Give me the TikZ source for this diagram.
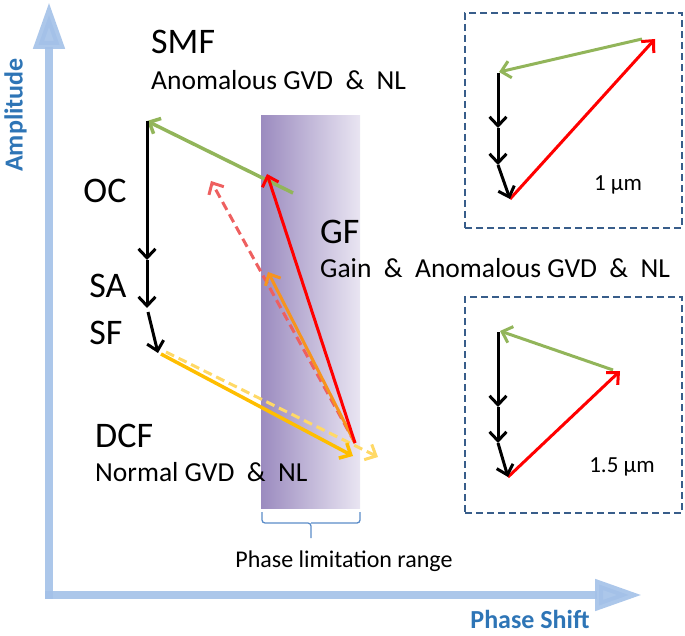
\documentclass[tikz,border=0pt]{standalone}
\usepackage{fontspec}
\setmainfont{Carlito}
\usetikzlibrary{arrows.meta}
\definecolor{axisblue}{HTML}{A3C1E8}
\definecolor{labelblue}{HTML}{2E75B6}
\definecolor{bandL}{HTML}{9B8BBF}
\definecolor{bandR}{HTML}{E9E5F2}
\definecolor{vgreen}{HTML}{92B55A}
\definecolor{vred}{HTML}{FF0000}
\definecolor{vreddash}{HTML}{EE6060}
\definecolor{vorange}{HTML}{F7941E}
\definecolor{vyellow}{HTML}{FFBE00}
\definecolor{vyellowdash}{HTML}{FFD966}
\definecolor{boxblue}{HTML}{385D8A}
\definecolor{braceblue}{HTML}{5B8CC8}
\tikzset{
  axisarrow/.style={draw=axisblue, line width=8pt, opacity=0.9, -{Triangle[length=47pt,width=30pt]}},
  vec/.style={line width=3pt, line cap=butt, -{Straight Barb[length=9pt,width=17pt]}},
  bigtxt/.style={anchor=west, inner sep=0pt, font=\fontsize{36}{42}\selectfont},
  midtxt/.style={anchor=west, inner sep=0pt, font=\fontsize{27.5}{32}\selectfont},
  smalltxt/.style={inner sep=0pt, font=\fontsize{23}{27}\selectfont},
  axlabel/.style={inner sep=0pt, text=labelblue, font=\bfseries\fontsize{26}{30}\selectfont},
  inset/.style={draw=boxblue, line width=2pt, dash pattern=on 7pt off 4pt, inner sep=0pt},
  dsh/.style={dash pattern=on 9pt off 5pt}
}
\begin{document}
\begin{tikzpicture}[x=1pt,y=-1pt]
\useasboundingbox (0,0) rectangle (685,636);
% axes
\coordinate (O1) at (49,599);
\coordinate (Ytip) at (49,2);
\coordinate (O2) at (45,595);
\coordinate (Xtip) at (642,595);
\draw[axisarrow] (O1) -- (Ytip);
\draw[axisarrow] (O2) -- (Xtip);
\node[axlabel, rotate=90] (amp) at (15.5,115) {Amplitude};
\node[axlabel] (ps) at (530,619) {Phase Shift};
% band
\shade[left color=bandL, right color=bandR] (261,116) rectangle (360,508);
\coordinate (bL) at (262,512);
\coordinate (bR) at (360,512);
\coordinate (bM) at (311,523);
\coordinate (bT) at (311,538);
\draw[braceblue, line width=1.3pt, rounded corners=3pt] (bL) |- (bM) -- (bT);
\draw[braceblue, line width=1.3pt, rounded corners=3pt] (bR) |- (bM);
\node[inner sep=0pt, font=\fontsize{24}{28}\selectfont] (plr) at (344,561) {Phase limitation range};
% texts
\node[bigtxt] (smf) at (151,42) {SMF};
\node[midtxt] (smfd) at (151,80) {Anomalous GVD\ \ \&\ \ NL};
\node[bigtxt, anchor=center] (oc) at (105,191) {OC};
\node[bigtxt, anchor=center] (sa) at (108,286) {SA};
\node[bigtxt, anchor=center] (sf) at (106,333) {SF};
\node[bigtxt] (gf) at (320,232) {GF};
\node[midtxt] (gfd) at (320,268) {Gain\ \ \&\ \ Anomalous GVD\ \ \&\ \ NL};
\node[bigtxt] (dcf) at (95,436) {DCF};
\node[midtxt] (dcfd) at (95,472) {Normal GVD\ \ \&\ \ NL};
% main vector diagram
\coordinate (A) at (147,121);
\coordinate (B) at (147,260);
\coordinate (C) at (147,308);
\coordinate (C2) at (148,312);
\coordinate (D) at (158,353);
\coordinate (Ys) at (161,354);
\coordinate (Yd0) at (166,352);
\coordinate (Ye) at (353,456);
\coordinate (Yde) at (378,457);
\coordinate (R0) at (355,443);
\coordinate (Rt) at (267,174);
\coordinate (G0) at (293,193);
\coordinate (RDt) at (211,181);
\coordinate (Ot) at (268,272);
\draw[vec, vyellowdash, dsh] (Yd0) -- (Yde);
\draw[vec, vyellow, line width=3.5pt] (Ys) -- (Ye);
\draw[vec, vreddash, dsh] (R0) -- (RDt);
\draw[vec, vorange] (R0) -- (Ot);
\draw[vec, vgreen, line width=3.5pt] (G0) -- (A);
\draw[vec, vred] (R0) -- (Rt);
\draw[vec, black] (A) -- (B);
\draw[vec, black] (B) -- (C);
\draw[vec, black] (C2) -- (D);
% inset 1
\node[inset, minimum width=217pt, minimum height=215pt] (box1) at (573.5,120.5) {};
\coordinate (a0) at (498,73);
\coordinate (a1) at (498,128);
\coordinate (a2) at (498,165);
\coordinate (a3) at (510,199);
\coordinate (ar) at (655,39);
\coordinate (ag) at (642,39);
\coordinate (agt) at (499,72);
\draw[vec, vgreen] (ag) -- (agt);
\draw[vec, vred] (a3) -- (ar);
\draw[vec, black] (a0) -- (a1);
\draw[vec, black] (a1) -- (a2);
\draw[vec, black] (a2) -- (a3);
\node[smalltxt] (um1) at (618,185) {1 µm};
% inset 2
\node[inset, minimum width=217pt, minimum height=216pt] (box2) at (573.5,405) {};
\coordinate (b0) at (498,332);
\coordinate (b1) at (498,407);
\coordinate (b2) at (498,443);
\coordinate (b3) at (508,477);
\coordinate (br) at (620,371);
\coordinate (bg) at (613,370);
\coordinate (bgt) at (500,331);
\draw[vec, vgreen] (bg) -- (bgt);
\draw[vec, vred] (b3) -- (br);
\draw[vec, black] (b0) -- (b1);
\draw[vec, black] (b1) -- (b2);
\draw[vec, black] (b2) -- (b3);
\node[smalltxt] (um2) at (622,467) {1.5 µm};
\end{tikzpicture}
\end{document}
